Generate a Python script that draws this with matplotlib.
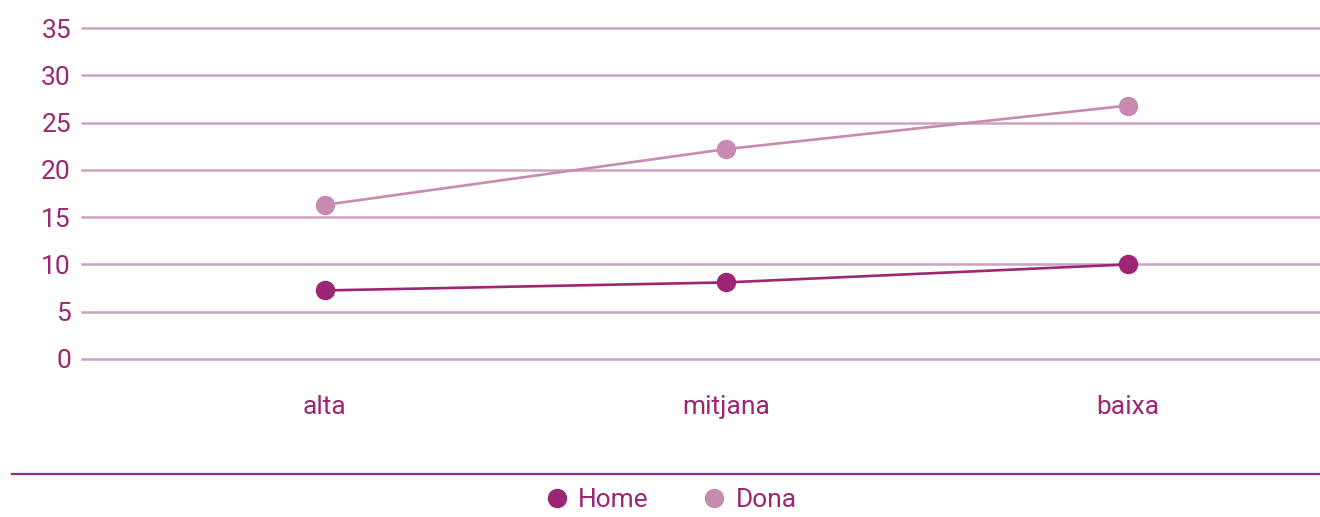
import matplotlib.pyplot as plt
from matplotlib.lines import Line2D

categories = ["alta", "mitjana", "baixa"]
home = [7.25, 8.1, 10.0]
dona = [16.3, 22.2, 26.8]
yticks = [0, 5, 10, 15, 20, 25, 30, 35]

HOME_COLOR = "#9c2674"
DONA_COLOR = "#c78bb1"
GRID_COLOR = "#cfa1c1"
TEXT_COLOR = "#9c2674"


def main():
    plt.rcParams['font.family'] = ['Roboto', 'DejaVu Sans']

    fig = plt.figure(figsize=(13.2, 5.17), dpi=100)
    ax = fig.add_axes([82 / 1320, 1 - 359 / 517, 1 - 82 / 1320, 331 / 517])

    for y in yticks:
        ax.axhline(y, color=GRID_COLOR, lw=1.8, clip_on=False, zorder=1)

    x = list(range(len(categories)))
    ax.plot(x, dona, color=DONA_COLOR, lw=1.9, marker="o", ms=13, zorder=3)
    ax.plot(x, home, color=HOME_COLOR, lw=1.9, marker="o", ms=13, zorder=3)

    ax.set_xlim(-0.605, 2.478)
    ax.set_ylim(0, 35)
    ax.set_yticks(yticks)
    ax.set_yticklabels([str(v) for v in yticks])
    ax.set_xticks(x)
    ax.set_xticklabels(categories)
    ax.tick_params(axis="y", length=0, pad=8, labelsize=19, labelcolor=TEXT_COLOR)
    ax.tick_params(axis="x", length=0, pad=26, labelsize=19, labelcolor=TEXT_COLOR)
    for s in ax.spines.values():
        s.set_visible(False)

    # separator above legend
    fig.add_artist(Line2D([12 / 1320, 1], [1 - 474 / 517] * 2, color=HOME_COLOR, lw=1.6))

    handles = [
        Line2D([], [], color=HOME_COLOR, marker="o", ls="", ms=13),
        Line2D([], [], color=DONA_COLOR, marker="o", ls="", ms=13),
    ]
    leg = fig.legend(handles, ["Home", "Dona"], loc="center", ncol=2,
                     bbox_to_anchor=(670 / 1320, 1 - 500 / 517), frameon=False,
                     fontsize=19, handletextpad=0.3, columnspacing=2.0,
                     handlelength=1.0)
    for t in leg.get_texts():
        t.set_color(TEXT_COLOR)

    fig.savefig("out.png", dpi=100)


if __name__ == "__main__":
    main()
